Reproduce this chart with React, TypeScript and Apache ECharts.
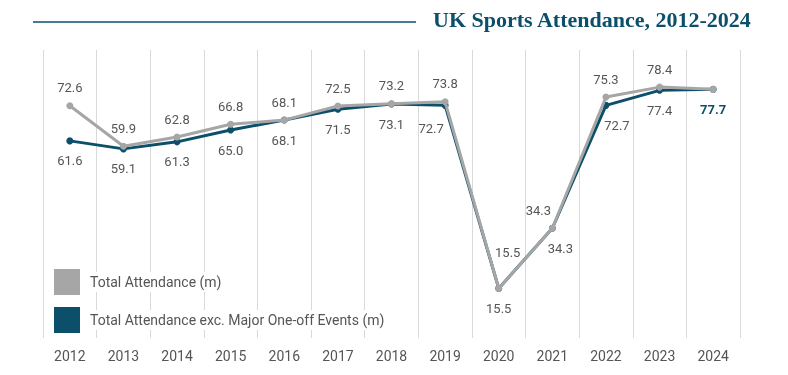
import React, { useEffect, useRef } from "react";
import * as echarts from "echarts";

const years = ["2012", "2013", "2014", "2015", "2016", "2017", "2018", "2019", "2020", "2021", "2022", "2023", "2024"];
const totalAttendance = [72.6, 59.9, 62.8, 66.8, 68.1, 72.5, 73.2, 73.8, 15.5, 34.3, 75.3, 78.4, 77.7];
const excMajorEvents = [61.6, 59.1, 61.3, 65.0, 68.1, 71.5, 73.1, 72.7, 15.5, 34.3, 72.7, 77.4, 77.7];
const seriesNames = ["Total Attendance (m)", "Total Attendance exc. Major One-off Events (m)"];
const title = "UK Sports Attendance, 2012-2024";

const TEAL = "#0b4f6b";
const GREY = "#a6a6a6";
const LABEL = "#555555";
const FONT = "Roboto, 'Noto Sans', sans-serif";

export default function App() {
  const ref = useRef<HTMLDivElement>(null);
  useEffect(() => {
    if (!ref.current) return;
    const chart = echarts.init(ref.current, null, { renderer: "svg" });

    const greyOffsets: Record<number, number[]> = { 8: [9, -18], 9: [-14, 0] };
    const tealOffsets: Record<number, number[]> = { 7: [-14, 3], 9: [8, 0], 10: [11, 0] };

    const greyData = totalAttendance.map((v, i) => {
      const item: any = { value: v };
      if (i === years.length - 1) item.label = { show: false };
      else if (greyOffsets[i]) item.label = { offset: greyOffsets[i] };
      return item;
    });
    const tealData = excMajorEvents.map((v, i) => {
      const item: any = { value: v };
      if (i === years.length - 1) item.label = { fontWeight: "bold", color: TEAL };
      else if (tealOffsets[i]) item.label = { offset: tealOffsets[i] };
      return item;
    });

    chart.setOption({
      animation: false,
      textStyle: { fontFamily: FONT },
      grid: { left: 43, right: 48, top: 50, bottom: 37 },
      graphic: [
        { type: "line", shape: { x1: 33, y1: 22, x2: 416, y2: 22 }, style: { stroke: TEAL, lineWidth: 1.5 } },
        {
          type: "text",
          right: 36,
          top: 8,
          style: { text: title, font: "bold 22px 'Liberation Serif', serif", fill: TEAL },
        },
      ],
      legend: {
        orient: "vertical",
        left: 54,
        top: 269,
        itemWidth: 26,
        itemHeight: 26,
        itemGap: 12,
        icon: "rect",
        padding: 0,
        data: seriesNames.map((n) => ({ name: n, itemStyle: { color: n === seriesNames[0] ? GREY : TEAL } })),
        textStyle: { fontSize: 14, color: LABEL, fontFamily: FONT, backgroundColor: "#fff", padding: [3, 2, 3, 5] },
      },
      xAxis: {
        type: "category",
        data: years,
        boundaryGap: true,
        axisLine: { show: false },
        axisTick: { show: false },
        splitLine: { show: true, lineStyle: { color: "#d9d9d9", width: 1 } },
        axisLabel: { color: LABEL, fontSize: 14, margin: 11, fontFamily: FONT },
      },
      yAxis: {
        type: "value",
        min: 0,
        max: 90,
        show: false,
        splitLine: { show: false },
      },
      series: [
        {
          name: seriesNames[1],
          type: "line",
          data: tealData,
          symbol: "circle",
          symbolSize: 7,
          lineStyle: { color: TEAL, width: 3 },
          itemStyle: { color: TEAL },
          z: 2,
          label: {
            show: true,
            position: "bottom",
            distance: 10,
            fontSize: 13,
            color: LABEL,
            fontFamily: FONT,
            formatter: (p: any) => Number(p.value).toFixed(1),
          },
        },
        {
          name: seriesNames[0],
          type: "line",
          data: greyData,
          symbol: "circle",
          symbolSize: 7,
          lineStyle: { color: GREY, width: 3 },
          itemStyle: { color: GREY },
          z: 3,
          label: {
            show: true,
            position: "top",
            distance: 8,
            fontSize: 13,
            color: LABEL,
            fontFamily: FONT,
            formatter: (p: any) => Number(p.value).toFixed(1),
          },
        },
      ],
    });
    return () => chart.dispose();
  }, []);
  return <div ref={ref} style={{ position: "fixed", left: 0, top: 0, width: 788, height: 375 }} />;
}
